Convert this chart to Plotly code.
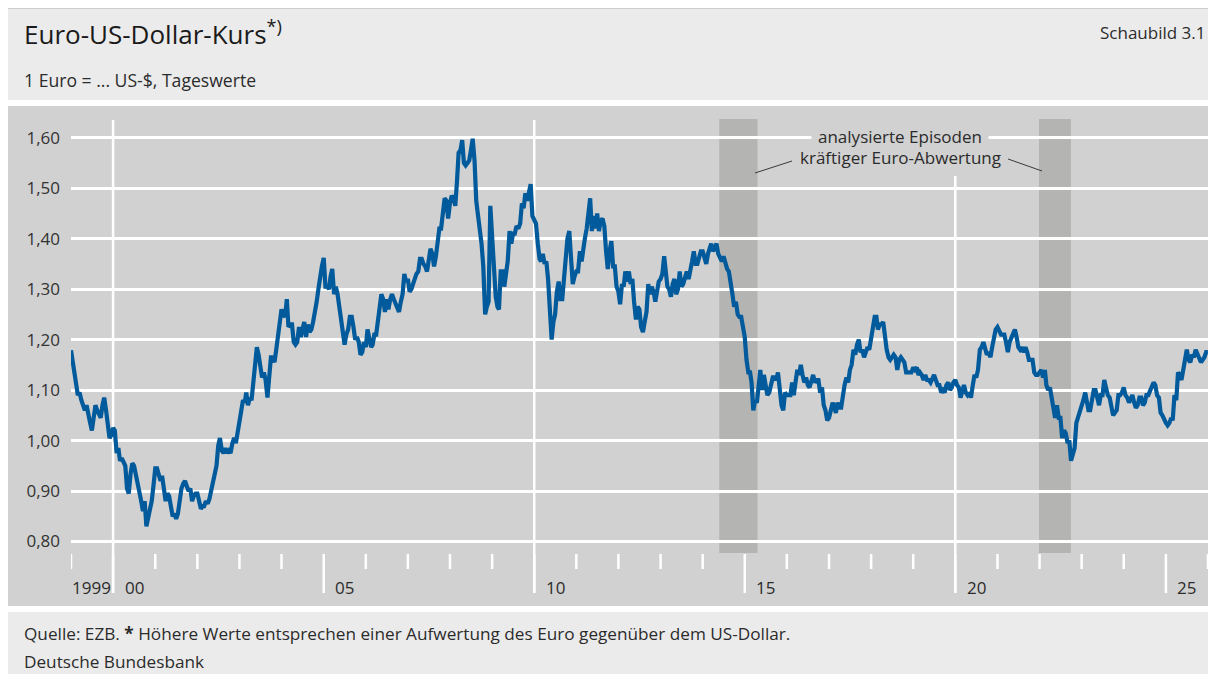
import plotly.graph_objects as go

# ---------------- data (semi-monthly readings: 1st and 16th of each month) ----------------
eur_1999 = [1.179, 1.160, 1.135, 1.110, 1.090, 1.095, 1.080, 1.070, 1.060, 1.070, 1.045, 1.035,
            1.020, 1.040, 1.070, 1.060, 1.050, 1.045, 1.070, 1.085, 1.060, 1.035, 1.005, 1.010]
eur_2000 = [1.025, 1.020, 0.975, 0.985, 0.960, 0.965, 0.955, 0.950, 0.905, 0.895, 0.935, 0.955,
            0.950, 0.935, 0.920, 0.900, 0.880, 0.860, 0.880, 0.830, 0.850, 0.860, 0.880, 0.910]
eur_2001 = [0.945, 0.945, 0.935, 0.920, 0.930, 0.905, 0.880, 0.895, 0.890, 0.870, 0.850, 0.855,
            0.845, 0.855, 0.880, 0.905, 0.915, 0.920, 0.910, 0.900, 0.905, 0.880, 0.890, 0.895]
eur_2002 = [0.895, 0.880, 0.865, 0.870, 0.870, 0.880, 0.875, 0.885, 0.900, 0.915, 0.935, 0.950,
            0.990, 1.005, 0.980, 0.975, 0.985, 0.975, 0.980, 0.975, 0.995, 1.005, 0.995, 1.015]
eur_2003 = [1.045, 1.065, 1.080, 1.075, 1.095, 1.070, 1.085, 1.080, 1.120, 1.155, 1.185, 1.170,
            1.145, 1.125, 1.135, 1.120, 1.085, 1.130, 1.165, 1.165, 1.155, 1.180, 1.205, 1.235]
eur_2004 = [1.260, 1.250, 1.245, 1.280, 1.225, 1.230, 1.230, 1.195, 1.190, 1.195, 1.225, 1.205,
            1.225, 1.235, 1.205, 1.230, 1.215, 1.220, 1.235, 1.250, 1.275, 1.300, 1.330, 1.345]
eur_2005 = [1.362, 1.305, 1.305, 1.300, 1.325, 1.340, 1.290, 1.305, 1.290, 1.265, 1.225, 1.215,
            1.190, 1.210, 1.220, 1.245, 1.245, 1.225, 1.200, 1.205, 1.195, 1.170, 1.175, 1.195]
eur_2006 = [1.185, 1.220, 1.205, 1.185, 1.190, 1.210, 1.210, 1.235, 1.265, 1.290, 1.280, 1.255,
            1.280, 1.260, 1.280, 1.290, 1.280, 1.270, 1.265, 1.255, 1.275, 1.290, 1.330, 1.315]
eur_2007 = [1.320, 1.295, 1.300, 1.315, 1.320, 1.330, 1.335, 1.360, 1.360, 1.350, 1.345, 1.335,
            1.355, 1.380, 1.370, 1.345, 1.365, 1.395, 1.420, 1.420, 1.445, 1.480, 1.475, 1.440]
eur_2008 = [1.470, 1.485, 1.480, 1.465, 1.510, 1.570, 1.575, 1.595, 1.550, 1.545, 1.550, 1.555,
            1.575, 1.598, 1.555, 1.475, 1.445, 1.420, 1.390, 1.345, 1.250, 1.265, 1.275, 1.465]
eur_2009 = [1.395, 1.315, 1.285, 1.265, 1.260, 1.335, 1.335, 1.305, 1.325, 1.355, 1.415, 1.390,
            1.410, 1.410, 1.425, 1.420, 1.430, 1.470, 1.460, 1.490, 1.475, 1.495, 1.508, 1.445]
eur_2010 = [1.435, 1.430, 1.390, 1.360, 1.355, 1.370, 1.350, 1.355, 1.320, 1.250, 1.200, 1.235,
            1.250, 1.295, 1.315, 1.280, 1.280, 1.320, 1.375, 1.400, 1.415, 1.360, 1.310, 1.325]
eur_2011 = [1.335, 1.335, 1.375, 1.355, 1.385, 1.400, 1.420, 1.445, 1.480, 1.415, 1.445, 1.420,
            1.450, 1.415, 1.435, 1.440, 1.425, 1.375, 1.340, 1.375, 1.395, 1.345, 1.345, 1.305]
eur_2012 = [1.295, 1.270, 1.310, 1.305, 1.335, 1.315, 1.335, 1.310, 1.320, 1.275, 1.240, 1.265,
            1.260, 1.225, 1.215, 1.235, 1.255, 1.310, 1.290, 1.305, 1.295, 1.275, 1.300, 1.315]
eur_2013 = [1.320, 1.330, 1.365, 1.335, 1.305, 1.300, 1.285, 1.310, 1.320, 1.290, 1.300, 1.335,
            1.305, 1.310, 1.325, 1.335, 1.320, 1.335, 1.355, 1.375, 1.350, 1.350, 1.360, 1.375]
eur_2014 = [1.375, 1.360, 1.350, 1.370, 1.380, 1.390, 1.375, 1.385, 1.390, 1.370, 1.360, 1.355,
            1.365, 1.350, 1.340, 1.335, 1.315, 1.290, 1.265, 1.275, 1.250, 1.245, 1.245, 1.230]
eur_2015 = [1.205, 1.160, 1.135, 1.135, 1.115, 1.060, 1.080, 1.075, 1.115, 1.140, 1.100, 1.130,
            1.110, 1.090, 1.095, 1.115, 1.125, 1.125, 1.120, 1.135, 1.100, 1.070, 1.060, 1.095]
eur_2016 = [1.090, 1.090, 1.090, 1.115, 1.090, 1.115, 1.140, 1.130, 1.150, 1.130, 1.115, 1.125,
            1.110, 1.105, 1.115, 1.130, 1.115, 1.120, 1.120, 1.095, 1.105, 1.070, 1.060, 1.040]
eur_2017 = [1.045, 1.065, 1.075, 1.065, 1.055, 1.075, 1.065, 1.065, 1.090, 1.110, 1.125, 1.115,
            1.140, 1.150, 1.180, 1.170, 1.190, 1.200, 1.175, 1.180, 1.165, 1.175, 1.185, 1.180]
eur_2018 = [1.200, 1.225, 1.245, 1.245, 1.220, 1.230, 1.230, 1.235, 1.205, 1.180, 1.165, 1.160,
            1.165, 1.170, 1.165, 1.140, 1.160, 1.165, 1.160, 1.155, 1.135, 1.135, 1.135, 1.135]
eur_2019 = [1.145, 1.140, 1.145, 1.130, 1.135, 1.130, 1.120, 1.130, 1.120, 1.120, 1.115, 1.125,
            1.130, 1.120, 1.110, 1.110, 1.095, 1.100, 1.095, 1.110, 1.115, 1.100, 1.105, 1.115]
eur_2020 = [1.120, 1.110, 1.105, 1.085, 1.100, 1.110, 1.095, 1.090, 1.095, 1.085, 1.110, 1.130,
            1.125, 1.140, 1.180, 1.185, 1.195, 1.180, 1.170, 1.175, 1.165, 1.185, 1.200, 1.220]
eur_2021 = [1.225, 1.215, 1.210, 1.210, 1.210, 1.195, 1.175, 1.195, 1.205, 1.215, 1.220, 1.205,
            1.185, 1.180, 1.185, 1.175, 1.185, 1.175, 1.160, 1.160, 1.160, 1.135, 1.130, 1.130]
eur_2022 = [1.135, 1.140, 1.125, 1.140, 1.110, 1.100, 1.105, 1.085, 1.055, 1.045, 1.070, 1.045,
            1.045, 1.005, 1.020, 1.015, 0.995, 1.000, 0.960, 0.975, 0.985, 1.035, 1.045, 1.060]
eur_2023 = [1.065, 1.080, 1.095, 1.070, 1.060, 1.060, 1.085, 1.100, 1.100, 1.085, 1.070, 1.090,
            1.090, 1.120, 1.100, 1.090, 1.085, 1.065, 1.050, 1.055, 1.060, 1.090, 1.090, 1.095]
eur_2024 = [1.105, 1.090, 1.085, 1.075, 1.085, 1.090, 1.075, 1.065, 1.070, 1.085, 1.085, 1.070,
            1.075, 1.090, 1.090, 1.100, 1.110, 1.115, 1.110, 1.090, 1.085, 1.055, 1.050, 1.040]
eur_2025 = [1.035, 1.030, 1.035, 1.045, 1.040, 1.090, 1.080, 1.135, 1.130, 1.120, 1.140, 1.155,
            1.180, 1.160, 1.155, 1.170, 1.165, 1.180, 1.170, 1.165, 1.155, 1.160, 1.165, 1.175]
last_date = "2025-12-31"
last_value = 1.175

years = list(range(1999, 2026))
yearly_values = [eur_1999, eur_2000, eur_2001, eur_2002, eur_2003, eur_2004, eur_2005,
                 eur_2006, eur_2007, eur_2008, eur_2009, eur_2010, eur_2011, eur_2012,
                 eur_2013, eur_2014, eur_2015, eur_2016, eur_2017, eur_2018, eur_2019,
                 eur_2020, eur_2021, eur_2022, eur_2023, eur_2024, eur_2025]

y_ticks = [0.80, 0.90, 1.00, 1.10, 1.20, 1.30, 1.40, 1.50, 1.60]
x_label_years = [1999, 2000, 2005, 2010, 2015, 2020, 2025]
x_label_text = ["1999", "00", "05", "10", "15", "20", "25"]
tick_years = list(range(1999, 2027))
long_tick_years = [2000, 2005, 2010, 2015, 2020, 2025]
grid_years = [2000, 2010, 2020]
episode_start = ["2014-05-25", "2021-12-27"]
episode_end = ["2015-04-22", "2022-09-30"]

dates, values = [], []
for yr, vals in zip(years, yearly_values):
    for i, v in enumerate(vals):
        dates.append(f"{yr}-{i // 2 + 1:02d}-{1 if i % 2 == 0 else 16:02d}")
        values.append(v)
dates.append(last_date)
values.append(last_value)

# ---------------- layout geometry ----------------
# Page coordinates (the page body adds an 8 px offset around the figure).
W, H = 1216, 674
OFF = 8
L, R, T, B = 71, 1208, 106, 606          # plot area in page pixels
FONT = "Open Sans"
PANEL = "#ebebeb"
PLOT_BG = "#d1d1d1"
SHADE = "#b4b4b3"
BLUE = "#005a9b"
TXT = "#2b2b2b"
FS = 17

def px(xp):
    return (xp - L) / (R - L)

def py(yp):
    return (B - yp) / (B - T)

# y range so 0.80 -> y=541.5 and 1.60 -> y=137.7 (page pixels)
ppu = (541.5 - 137.7) / 0.80
y_lo = 0.80 - (B - 541.5) / ppu
y_hi = y_lo + (B - T) / ppu

fig = go.Figure()
fig.add_trace(go.Scatter(x=dates, y=values, mode="lines",
                         line=dict(color=BLUE, width=4.2), hoverinfo="skip",
                         showlegend=False))

shapes = []
# frame pieces
shapes.append(dict(type="line", xref="paper", yref="paper", x0=px(0), x1=px(1240), y0=py(8.5), y1=py(8.5),
                   line=dict(color="#cdcdcd", width=1), layer="below"))
shapes.append(dict(type="rect", xref="paper", yref="paper", x0=px(0), x1=px(1240), y0=py(106), y1=py(100),
                   fillcolor="white", line_width=0, layer="below"))
shapes.append(dict(type="rect", xref="paper", yref="paper", x0=px(0), x1=px(1240), y0=py(606), y1=py(106),
                   fillcolor=PLOT_BG, line_width=0, layer="below"))
shapes.append(dict(type="rect", xref="paper", yref="paper", x0=px(0), x1=px(1240), y0=py(612), y1=py(606),
                   fillcolor="white", line_width=0, layer="below"))

# shaded episodes
for s, e in zip(episode_start, episode_end):
    shapes.append(dict(type="rect", xref="x", yref="paper", x0=s, x1=e, y0=py(553), y1=py(119),
                       fillcolor=SHADE, line_width=0, layer="below"))

# vertical grid lines every ten years
for yr in grid_years:
    top = 176 if yr == 2020 else 120
    shapes.append(dict(type="line", xref="x", yref="paper", x0=f"{yr}-01-01", x1=f"{yr}-01-01",
                       y0=py(593), y1=py(top), line=dict(color="white", width=2.5), layer="below"))

# year tick marks
for yr in tick_years:
    bottom = 593 if yr in long_tick_years else 569
    shapes.append(dict(type="line", xref="x", yref="paper", x0=f"{yr}-01-01", x1=f"{yr}-01-01",
                       y0=py(bottom), y1=py(554), line=dict(color="white", width=2.5), layer="below"))

# annotation connector lines
shapes.append(dict(type="line", xref="paper", yref="paper", x0=px(755), y0=py(173), x1=px(792), y1=py(161),
                   line=dict(color="#3a3a3a", width=1)))
shapes.append(dict(type="line", xref="paper", yref="paper", x0=px(1008), y0=py(159), x1=px(1042), y1=py(171),
                   line=dict(color="#3a3a3a", width=1)))

annotations = []
annotations.append(dict(xref="paper", yref="paper", x=px(22), y=py(33), xanchor="left", yanchor="middle",
                        text="Euro-US-Dollar-Kurs<sup>*)</sup>", showarrow=False,
                        font=dict(family=FONT, size=26, color="#1a1a1a")))
annotations.append(dict(xref="paper", yref="paper", x=px(22), y=py(80), xanchor="left", yanchor="middle",
                        text="1 Euro = ... US-$, Tageswerte", showarrow=False,
                        font=dict(family=FONT, size=17.6, color=TXT)))
annotations.append(dict(xref="paper", yref="paper", x=px(1207), y=py(32), xanchor="right", yanchor="middle",
                        text="Schaubild 3.1", showarrow=False,
                        font=dict(family=FONT, size=FS, color=TXT)))
annotations.append(dict(xref="paper", yref="paper", x=px(900), y=py(136), xanchor="center", yanchor="middle",
                        text="analysierte Episoden", showarrow=False, bgcolor=PLOT_BG, borderpad=6,
                        font=dict(family=FONT, size=FS, color=TXT)))
annotations.append(dict(xref="paper", yref="paper", x=px(900), y=py(157), xanchor="center", yanchor="middle",
                        text="kräftiger Euro-Abwertung", showarrow=False,
                        font=dict(family=FONT, size=FS, color=TXT)))
for yr, lab in zip(x_label_years, x_label_text):
    annotations.append(dict(xref="x", yref="paper", x=f"{yr}-07-02", y=py(587), xanchor="center",
                            yanchor="middle", text=lab, showarrow=False,
                            font=dict(family=FONT, size=FS, color=TXT)))
annotations.append(dict(xref="paper", yref="paper", x=px(22), y=py(633), xanchor="left", yanchor="middle",
                        text="Quelle: EZB. <b>*</b> Höhere Werte entsprechen einer Aufwertung des Euro gegenüber dem US-Dollar.",
                        showarrow=False, font=dict(family=FONT, size=17.2, color=TXT)))
annotations.append(dict(xref="paper", yref="paper", x=px(22), y=py(661), xanchor="left", yanchor="middle",
                        text="Deutsche Bundesbank", showarrow=False,
                        font=dict(family=FONT, size=17.2, color=TXT)))

fig.update_layout(
    width=W, height=H,
    margin=dict(l=L - OFF, r=W - (R - OFF), t=T - OFF, b=H - (B - OFF), pad=0),
    paper_bgcolor=PANEL, plot_bgcolor=PLOT_BG,
    separators=",.",
    font=dict(family=FONT, size=FS, color=TXT),
    shapes=shapes, annotations=annotations,
    showlegend=False,
    xaxis=dict(type="date", range=["1999-01-01", "2026-01-01"], showgrid=False, zeroline=False,
               showticklabels=False, ticks="", showline=False, fixedrange=True),
    yaxis=dict(range=[y_lo, y_hi], tickvals=y_ticks, tickformat=".2f", showgrid=True,
               gridcolor="white", gridwidth=2.5, zeroline=False, showline=False, ticks="",
               ticklabelstandoff=10, tickfont=dict(family=FONT, size=FS, color="#333333"),
               fixedrange=True),
)

fig.write_html("out.html")
